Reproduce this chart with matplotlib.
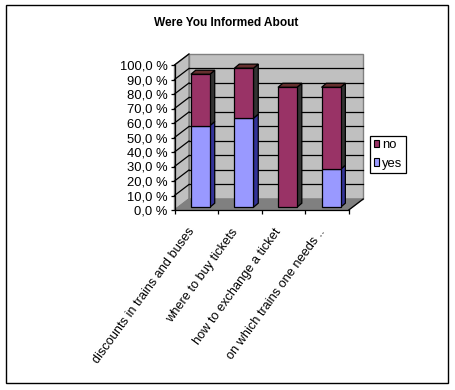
import matplotlib
matplotlib.use("Agg")
import matplotlib.pyplot as plt
from matplotlib.patches import Polygon, Rectangle

plt.rcParams['font.family'] = ['Liberation Sans', 'DejaVu Sans']

categories = ["discounts in trains and buses", "where to buy tickets", "how to exchange a ticket", "on which trains one needs .."]
yes_values = [56.3, 61.4, 0, 26.2]
no_values = [35.4, 34.5, 82.7, 56.5]
y_ticks = [0, 10, 20, 30, 40, 50, 60, 70, 80, 90, 100]
y_labels = ["0,0 %", "10,0 %", "20,0 %", "30,0 %", "40,0 %", "50,0 %", "60,0 %", "70,0 %", "80,0 %", "90,0 %", "100,0 %"]

# fake 3d depth, in data units
wall_dx, wall_dy = 0.333, 7.6
bar_dx, bar_dy = 0.11, 2.8
shift_x, shift_y = 0.095, 1.9
bar_width = 0.437

col_yes, col_no = "#9999FF", "#993366"
side_yes, side_no = "#333399", "#333333"
top_no = "#66302F"

W, H = 455, 390
fig = plt.figure(figsize=(W / 100, H / 100), dpi=100, facecolor="white")
ax = fig.add_axes([174.5 / W, 1 - 210 / H, 174.2 / W, 145 / H])
ax.set_xlim(0, 4)
ax.set_ylim(0, 100)
ax.patch.set_visible(False)


def poly(points, color, edge="black", lw=0.9, z=2):
    ax.add_patch(Polygon(points, closed=True, facecolor=color, edgecolor=edge, linewidth=lw, zorder=z, clip_on=False))


# walls and floor
n = len(categories)
poly([(0, 0), (0, 100), (wall_dx, 100 + wall_dy), (wall_dx, wall_dy)], "#C0C0C0", "#808080", 1.0, 1)
poly([(wall_dx, wall_dy), (wall_dx, 100 + wall_dy), (n + wall_dx, 100 + wall_dy), (n + wall_dx, wall_dy)], "#C0C0C0", "#808080", 1.0, 1)
poly([(0, 0), (wall_dx, wall_dy), (n + wall_dx, wall_dy), (n, 0)], "#808080", "#808080", 1.0, 1)

for t in y_ticks[1:-1]:
    ax.plot([wall_dx, n + wall_dx], [t + wall_dy, t + wall_dy], color="black", lw=0.9, zorder=1.5, clip_on=False)
for t in y_ticks[1:]:
    ax.plot([0, wall_dx], [t, t + wall_dy], color="black", lw=0.9, zorder=1.5, clip_on=False)
ax.plot([n, n + wall_dx], [0, wall_dy], color="black", lw=0.9, zorder=1.5, clip_on=False)

# bars
for i in range(n):
    x0 = i + 0.5 + shift_x - bar_width / 2
    x1 = x0 + bar_width
    y0 = shift_y
    y1 = y0 + yes_values[i]
    y2 = y1 + no_values[i]
    if yes_values[i] > 0:
        poly([(x1, y0), (x1 + bar_dx, y0 + bar_dy), (x1 + bar_dx, y1 + bar_dy), (x1, y1)], side_yes, z=3)
        ax.bar(x0, yes_values[i], bar_width, bottom=y0, align="edge", color=col_yes, edgecolor="black", linewidth=0.9, zorder=4, clip_on=False)
    poly([(x1, y1), (x1 + bar_dx, y1 + bar_dy), (x1 + bar_dx, y2 + bar_dy), (x1, y2)], side_no, z=3)
    poly([(x0, y2), (x1, y2), (x1 + bar_dx, y2 + bar_dy), (x0 + bar_dx, y2 + bar_dy)], top_no, z=3)
    ax.bar(x0, no_values[i], bar_width, bottom=y1, align="edge", color=col_no, edgecolor="black", linewidth=0.9, zorder=4, clip_on=False)

# axes
for s in ["top", "right"]:
    ax.spines[s].set_visible(False)
for s in ["left", "bottom"]:
    ax.spines[s].set_linewidth(0.9)
    ax.spines[s].set_zorder(5)
ax.set_yticks(y_ticks)
ax.set_yticklabels(y_labels, fontsize=9.4)
ax.set_xticks(range(n + 1))
ax.set_xticklabels([])
ax.tick_params(axis="x", which="major", length=3, width=0.9)
ax.tick_params(axis="y", length=3, width=0.9, pad=2)

# rotated category labels, offset in pixels from the slot centre
for i, name in enumerate(categories):
    ax.annotate(name, xy=(i + 0.5, 0), xycoords="data", xytext=(-9, -16), textcoords="offset pixels", fontsize=9.2,
                rotation=54, ha="right", va="top", rotation_mode="anchor", annotation_clip=False)

fig.text(226 / W, 1 - 23 / H, "Were You Informed About", fontsize=8.6, fontweight="bold", ha="center", va="center")

# legend, reversed like the stacking
handles = [Rectangle((0, 0), 1, 1, facecolor=col_no, edgecolor="black", linewidth=0.8),
           Rectangle((0, 0), 1, 1, facecolor=col_yes, edgecolor="black", linewidth=0.8)]
leg = fig.legend(handles, ["no", "yes"], loc="center", bbox_to_anchor=(388 / W, 1 - 154.5 / H), fontsize=9.4,
                 frameon=True, fancybox=False, edgecolor="black", framealpha=1, handlelength=0.42, handleheight=0.5,
                 handletextpad=0.2, labelspacing=0.5, borderpad=0.26, borderaxespad=0)
leg.get_frame().set_linewidth(0.9)

# outer frame of the picture
fig.add_artist(Rectangle((5.5 / W, 1 - 383 / H), 442 / W, 378 / H, transform=fig.transFigure, fill=False, edgecolor="black", linewidth=1.0))

fig.savefig("out.png", dpi=100)
